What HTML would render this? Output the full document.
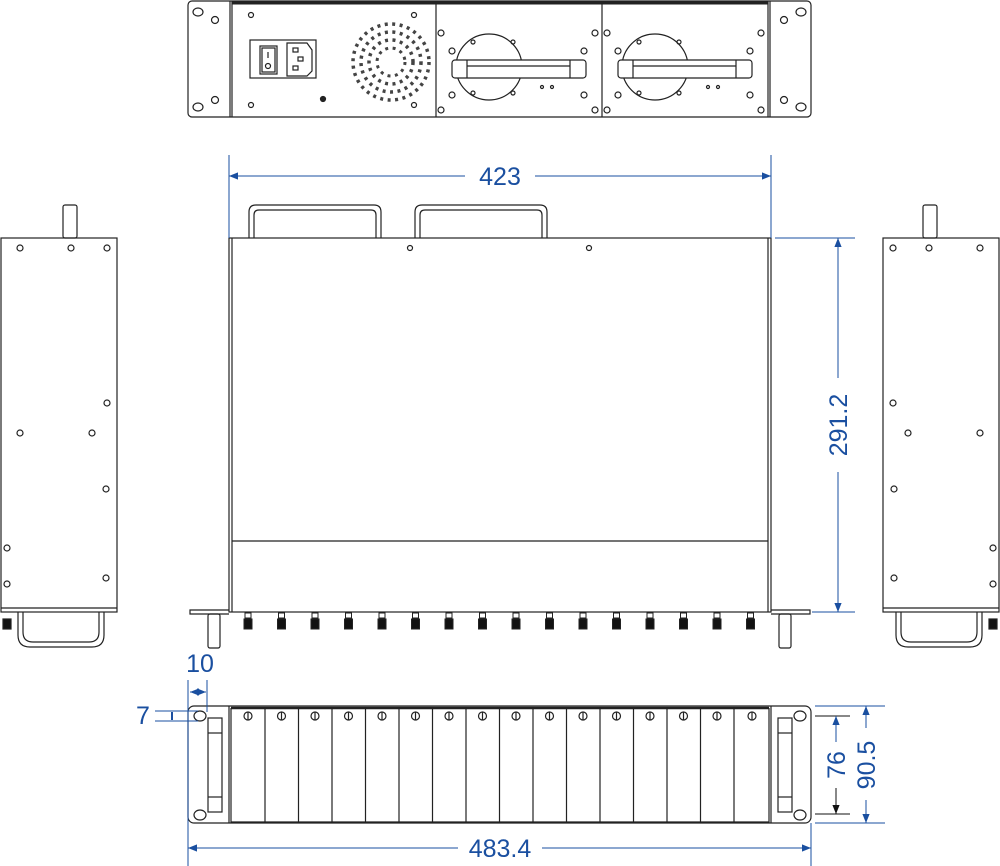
<!DOCTYPE html>
<html><head><meta charset="utf-8"><style>html,body{margin:0;padding:0;background:#fff}svg{display:block}</style></head>
<body>
<svg width="1000" height="866" viewBox="0 0 1000 866" xmlns="http://www.w3.org/2000/svg" font-family="Liberation Sans, sans-serif">
<defs>
<marker id="a" viewBox="0 0 10 10" refX="10" refY="5" markerWidth="9" markerHeight="9" orient="auto-start-reverse" markerUnits="userSpaceOnUse"><path d="M0,1 L10,5 L0,9 z" fill="#1a4fa0"/></marker>
<marker id="k" viewBox="0 0 10 10" refX="10" refY="5" markerWidth="9" markerHeight="9" orient="auto-start-reverse" markerUnits="userSpaceOnUse"><path d="M0,1 L10,5 L0,9 z" fill="#111"/></marker>
</defs>
<g fill="none" stroke="#222" stroke-width="1.2">
<!-- TOP VIEW -->
<rect x="188" y="1" width="623" height="116" rx="4"/>
<line x1="230" y1="1" x2="230" y2="117"/><line x1="232" y1="1" x2="232" y2="117"/>
<line x1="768" y1="1" x2="768" y2="117"/><line x1="770" y1="1" x2="770" y2="117"/>
<line x1="232" y1="3" x2="768" y2="3" stroke-width="3"/>
<line x1="436" y1="3" x2="436" y2="117"/><line x1="602" y1="3" x2="602" y2="117"/>
<ellipse cx="198" cy="12" rx="5" ry="4"/><ellipse cx="198" cy="107" rx="5" ry="4"/>
<ellipse cx="801" cy="12" rx="5" ry="4"/><ellipse cx="801" cy="107" rx="5" ry="4"/>
<circle cx="215" cy="20" r="3.5"/><circle cx="215" cy="100" r="3.5"/><circle cx="784" cy="20" r="3.5"/><circle cx="784" cy="100" r="3.5"/>
<circle cx="251" cy="15" r="2.5"/><circle cx="251" cy="105" r="2.5"/><circle cx="414" cy="15" r="2.5"/><circle cx="414" cy="105" r="2.5"/>
<circle cx="323" cy="99" r="2.5" fill="#222"/>
<rect x="250" y="40" width="66" height="38"/><rect x="260" y="46" width="17" height="28"/>
<rect x="262" y="48" width="13" height="24"/><line x1="268" y1="52" x2="268" y2="58"/><circle cx="268" cy="66" r="2.5"/>
<path d="M287 43 H307 L312 50 V71 L307 76 H287 Z"/>
<rect x="293" y="48" width="5" height="4"/><rect x="298" y="57" width="5" height="4"/><rect x="293" y="66" width="5" height="4"/>
<circle cx="391" cy="62" r="38" stroke-dasharray="3 4.5" stroke-width="3.5" stroke="#444"/>
<circle cx="391" cy="62" r="30" stroke-dasharray="3 4.5" stroke-width="3.5" stroke="#444"/>
<circle cx="391" cy="62" r="22" stroke-dasharray="3 4.5" stroke-width="3.5" stroke="#444"/>
<circle cx="391" cy="62" r="14" stroke-dasharray="3 4.5" stroke-width="3" stroke="#444"/>
<g id="psu">
<circle cx="489" cy="67" r="33"/>
<rect x="452" y="60" width="134" height="18" rx="3" fill="#fff"/>
<line x1="467" y1="60" x2="467" y2="78"/><line x1="570" y1="60" x2="570" y2="78"/>
<line x1="467" y1="66" x2="570" y2="66"/>
<circle cx="441" cy="33" r="3"/><circle cx="595" cy="33" r="3"/><circle cx="441" cy="110" r="3"/><circle cx="595" cy="110" r="3"/>
<circle cx="452" cy="51" r="3"/><circle cx="584" cy="51" r="3"/><circle cx="452" cy="95" r="3"/><circle cx="584" cy="95" r="3"/>
<circle cx="473" cy="42" r="2"/><circle cx="513" cy="42" r="2"/><circle cx="473" cy="93" r="2"/><circle cx="513" cy="93" r="2"/>
<circle cx="542" cy="87" r="1.5"/><circle cx="552" cy="87" r="1.5"/>
</g>
<use href="#psu" x="166"/>

<!-- MIDDLE VIEW -->
<path d="M249 238 V212 Q249 205 256 205 H374 Q381 205 381 212 V238"/>
<path d="M254 238 V215 Q254 210 259 210 H371 Q376 210 376 215 V238"/>
<path d="M415 238 V212 Q415 205 422 205 H540 Q547 205 547 212 V238"/>
<path d="M420 238 V215 Q420 210 425 210 H537 Q542 210 542 215 V238"/>
<rect x="229" y="238" width="542" height="374" fill="#fff"/>
<line x1="232" y1="238" x2="232" y2="612"/><line x1="768" y1="238" x2="768" y2="612"/>
<line x1="232" y1="541" x2="768" y2="541"/>
<circle cx="410" cy="248" r="2.5"/><circle cx="589" cy="248" r="2.5"/>
<path d="M229 610 H190 V614 H229"/><path d="M771 610 H810 V614 H771"/>
<rect x="208" y="614" width="12" height="34" rx="2"/><rect x="779" y="614" width="12" height="34" rx="2"/>
</g>
<g fill="#111" stroke="#222">
<g id="cn"><rect x="245" y="613" width="6" height="5" fill="#fff"/><rect x="244" y="619" width="8" height="10"/></g>
<use href="#cn" x="33.5"/><use href="#cn" x="67"/><use href="#cn" x="100.5"/><use href="#cn" x="134"/><use href="#cn" x="167.5"/><use href="#cn" x="201"/><use href="#cn" x="234.5"/><use href="#cn" x="268"/><use href="#cn" x="301.5"/><use href="#cn" x="335"/><use href="#cn" x="368.5"/><use href="#cn" x="402"/><use href="#cn" x="435.5"/><use href="#cn" x="469"/><use href="#cn" x="502.5"/>
</g>
<g fill="none" stroke="#222" stroke-width="1.2">
<!-- LEFT SIDE -->
<g id="side">
<rect x="63" y="205" width="14" height="33" rx="2"/>
<rect x="1" y="238" width="116" height="374"/><line x1="1" y1="608" x2="117" y2="608"/>
<path d="M18 612 V635 Q18 647 30 647 H92 Q104 647 104 635 V612"/>
<path d="M23 612 V632 Q23 642 33 642 H89 Q99 642 99 632 V612"/>
<circle cx="20" cy="248" r="3"/><circle cx="71" cy="248" r="3"/><circle cx="107" cy="248" r="3"/>
<circle cx="107" cy="403" r="3"/><circle cx="20" cy="433" r="3"/><circle cx="92" cy="433" r="3"/>
<circle cx="106" cy="489" r="3"/><circle cx="7" cy="548" r="3"/><circle cx="106" cy="578" r="3"/><circle cx="7" cy="584" r="3"/>
<rect x="3" y="619" width="8" height="10" fill="#111"/>
</g>
<use href="#side" transform="translate(1000,0) scale(-1,1)"/>

<!-- BOTTOM VIEW -->
<rect x="188" y="706" width="623" height="117" rx="6" fill="#fff"/>
<line x1="229" y1="706" x2="229" y2="823"/><line x1="771" y1="706" x2="771" y2="823"/>
<line x1="231" y1="708" x2="769" y2="708" stroke-width="2.5"/>
<line x1="231" y1="708" x2="231" y2="823"/><line x1="769" y1="708" x2="769" y2="823"/>
<line x1="231" y1="822" x2="769" y2="822"/>
<ellipse cx="200" cy="716" rx="6" ry="5"/><ellipse cx="200" cy="815" rx="6" ry="5"/>
<ellipse cx="800" cy="716" rx="6" ry="5"/><ellipse cx="800" cy="815" rx="6" ry="5"/>
<rect x="208" y="718" width="14" height="94"/><line x1="208" y1="733" x2="222" y2="733"/><line x1="208" y1="797" x2="222" y2="797"/>
<rect x="778" y="718" width="14" height="94"/><line x1="778" y1="733" x2="792" y2="733"/><line x1="778" y1="797" x2="792" y2="797"/>
<g id="sl"><line x1="265" y1="708" x2="265" y2="822"/><circle cx="248" cy="716" r="4"/><line x1="248" y1="712" x2="248" y2="720"/></g>
<use href="#sl" x="33.5"/><use href="#sl" x="67"/><use href="#sl" x="100.5"/><use href="#sl" x="134"/><use href="#sl" x="167.5"/><use href="#sl" x="201"/><use href="#sl" x="234.5"/><use href="#sl" x="268"/><use href="#sl" x="301.5"/><use href="#sl" x="335"/><use href="#sl" x="368.5"/><use href="#sl" x="402"/><use href="#sl" x="435.5"/><use href="#sl" x="469"/><circle cx="752" cy="716" r="4"/><line x1="752" y1="712" x2="752" y2="720"/>
</g>

<!-- DIMENSIONS -->
<g stroke="#1a4fa0" stroke-width="1" fill="none">
<line x1="229" y1="155" x2="229" y2="238"/><line x1="771" y1="155" x2="771" y2="238"/>
<line x1="229" y1="176" x2="465" y2="176" marker-start="url(#a)"/><line x1="535" y1="176" x2="771" y2="176" marker-end="url(#a)"/>
<line x1="775" y1="238" x2="855" y2="238"/><line x1="812" y1="612" x2="855" y2="612"/>
<line x1="838" y1="238" x2="838" y2="378" marker-start="url(#a)"/><line x1="838" y1="472" x2="838" y2="612" marker-end="url(#a)"/>
<line x1="188" y1="823" x2="188" y2="866"/><line x1="811" y1="823" x2="811" y2="866"/>
<line x1="188" y1="848" x2="458" y2="848" marker-start="url(#a)"/><line x1="542" y1="848" x2="811" y2="848" marker-end="url(#a)"/>
<line x1="188" y1="680" x2="188" y2="823"/><line x1="207" y1="680" x2="207" y2="712"/>
<line x1="190" y1="692" x2="206" y2="692" marker-start="url(#a)" marker-end="url(#a)"/>
<line x1="155" y1="711" x2="198" y2="711"/><line x1="155" y1="721" x2="198" y2="721"/>
<line x1="172" y1="712" x2="172" y2="720" stroke-width="2"/>
<line x1="815" y1="706" x2="885" y2="706"/><line x1="815" y1="823" x2="885" y2="823"/>
<line x1="866" y1="706" x2="866" y2="728" marker-start="url(#a)"/><line x1="866" y1="800" x2="866" y2="823" marker-end="url(#a)"/>
</g>
<g stroke="#111" stroke-width="1">
<line x1="815" y1="716" x2="850" y2="716"/><line x1="815" y1="814" x2="850" y2="814"/>
<line x1="836" y1="716" x2="836" y2="742" stroke="#1a4fa0" marker-start="url(#a)"/><line x1="836" y1="788" x2="836" y2="814" marker-end="url(#k)"/>
</g>
<g fill="#1a4fa0" font-size="25">
<text x="500" y="185" text-anchor="middle">423</text>
<text transform="translate(847,425) rotate(-90)" text-anchor="middle">291.2</text>
<text x="500" y="857" text-anchor="middle">483.4</text>
<text x="200" y="672" text-anchor="middle">10</text>
<text x="143" y="724" text-anchor="middle">7</text>
<text transform="translate(845,765) rotate(-90)" text-anchor="middle">76</text>
<text transform="translate(875,765) rotate(-90)" text-anchor="middle">90.5</text>
</g>
</svg>
</body></html>
